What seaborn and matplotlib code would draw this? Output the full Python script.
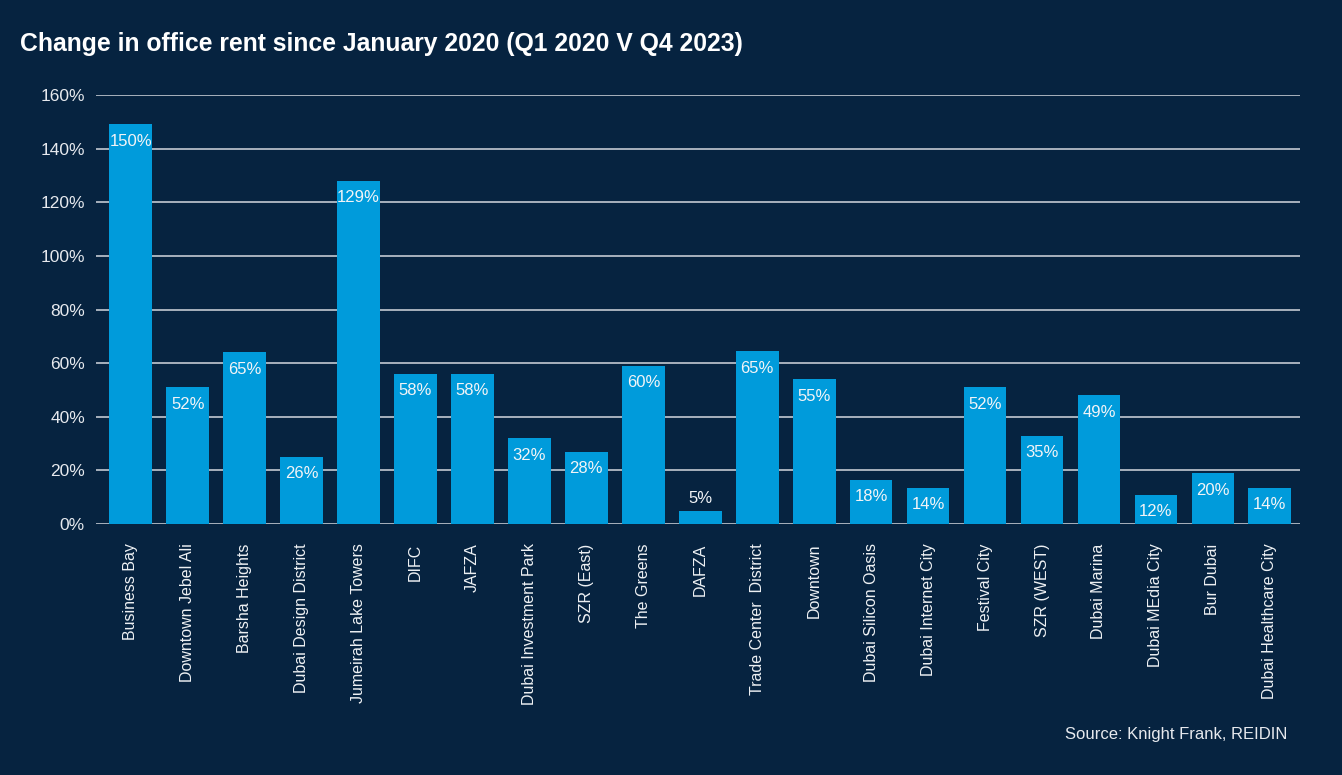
import matplotlib
matplotlib.use("Agg")
import matplotlib.pyplot as plt
import seaborn as sns
import pandas as pd

# Data
districts = [
    "Business Bay", "Downtown Jebel Ali", "Barsha Heights", "Dubai Design District",
    "Jumeirah Lake Towers", "DIFC", "JAFZA", "Dubai Investment Park", "SZR (East)",
    "The Greens", "DAFZA", "Trade Center  District", "Downtown", "Dubai Silicon Oasis",
    "Dubai Internet City", "Festival City", "SZR (WEST)", "Dubai Marina",
    "Dubai MEdia City", "Bur Dubai", "Dubai Healthcare City",
]
# bar heights (as drawn) and the printed labels
bar_heights = [149, 51, 64, 25, 128, 56, 56, 32, 27, 59, 5, 64.5, 54, 16.5, 13.5,
               51, 33, 48, 11, 19, 13.5]
value_labels = ["150%", "52%", "65%", "26%", "129%", "58%", "58%", "32%", "28%", "60%",
                "5%", "65%", "55%", "18%", "14%", "52%", "35%", "49%", "12%", "20%", "14%"]
y_ticks = [0, 20, 40, 60, 80, 100, 120, 140, 160]

df = pd.DataFrame({"district": districts, "change": bar_heights})

BG = "#062340"
BAR = "#009bdb"

sns.set_theme(style="white")
plt.rcParams["font.family"] = ["Liberation Sans", "DejaVu Sans"]

fig = plt.figure(figsize=(13.42, 7.75), dpi=100, facecolor=BG)
ax = fig.add_axes([96 / 1342, 1 - 524 / 775, (1300 - 96) / 1342, (524 - 95) / 775])
ax.set_facecolor(BG)

sns.barplot(data=df, x="district", y="change", color=BAR, width=0.75,
            saturation=1, linewidth=0, edgecolor=BAR, ax=ax, zorder=3)

ax.set_ylim(0, 160)
ax.set_xlim(-0.61, len(districts) - 0.47)
ax.set_yticks(y_ticks)
ax.set_yticklabels([f"{t}%" for t in y_ticks], color="#e6e9ee", fontsize=12.5)
ax.tick_params(axis="y", length=0, pad=8)
ax.tick_params(axis="x", length=0, pad=14)
ax.set_xticks(range(len(districts)))
ax.set_xticklabels(districts, rotation=90, color="#eef1f4", fontsize=11.5, va="top")
for t in y_ticks:
    ax.axhline(t, color="#d4d8de", lw=1.1, zorder=1)
for s in ax.spines.values():
    s.set_visible(False)
ax.set_xlabel("")
ax.set_ylabel("")

for i, (h, lab) in enumerate(zip(bar_heights, value_labels)):
    # short bars get their label just above the bar
    dy = -17 if h > 10 else 12
    ax.annotate(lab, (i, h), xytext=(0, dy), textcoords="offset pixels",
                ha="center", va="center", color="#f2f4f7", fontsize=12, zorder=4)

fig.text(20 / 1342, 1 - 44 / 775, "Change in office rent since January 2020 (Q1 2020 V Q4 2023)",
         color="white", fontsize=17.8, fontweight="bold", va="center", ha="left")
fig.text(1287 / 1342, 1 - 735 / 775, "Source: Knight Frank, REIDIN",
         color="#e6e9ee", fontsize=12, va="center", ha="right")

fig.savefig("out.png", dpi=100, facecolor=BG)
